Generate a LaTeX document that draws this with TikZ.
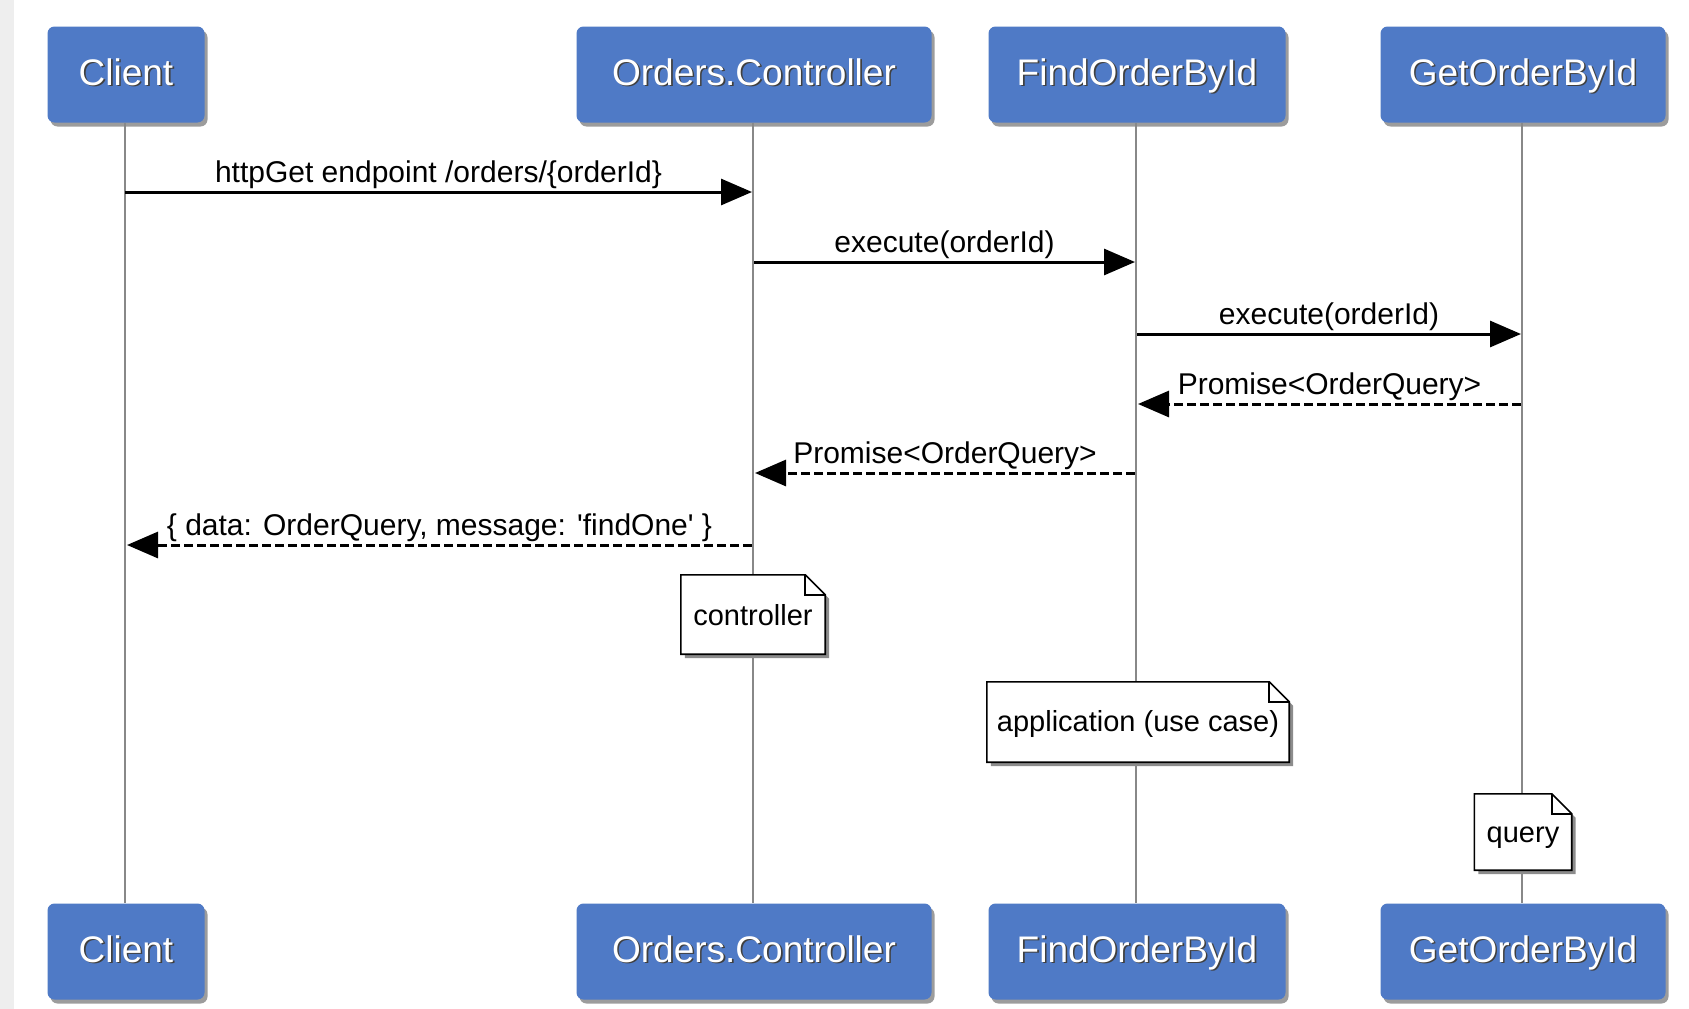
\documentclass[tikz,border=0pt]{standalone}
\usepackage{fontspec}
\setmainfont{Liberation Sans}
\usetikzlibrary{arrows.meta,shadows}
\definecolor{boxblue}{HTML}{4F7AC6}
\definecolor{lifegray}{HTML}{888888}
\definecolor{stripgray}{HTML}{EEEEEE}
\newcommand{\boxtxt}[1]{\rlap{\hspace{1.6pt}\raisebox{-1.6pt}{\color{black!75}#1}}#1}
\begin{document}
\begin{tikzpicture}[x=1pt,y=-1pt,
  actor/.style={rectangle, rounded corners=7pt, fill=boxblue, text=white, inner sep=0pt,
    minimum height=96pt, text height=28pt, text depth=7pt, font=\fontsize{37}{40}\selectfont,
    drop shadow={shadow xshift=3pt, shadow yshift=-4pt, fill=black!70, opacity=0.55}},
  life/.style={draw=lifegray, line width=2.6pt},
  msg/.style={draw=black, line width=3pt, -{Triangle[length=31pt,width=26pt]}},
  ret/.style={msg, dash pattern=on 9pt off 4pt},
  lbl/.style={font=\fontsize{30}{32}\selectfont, inner sep=1pt, above=1pt},
  notebox/.style={rectangle, inner sep=0pt, font=\fontsize{29}{32}\selectfont, text=black},
  notefill/.style={fill=white, draw=black, line width=1.6pt, line join=miter},
  noteshadow/.style={fill=black!45, draw=none}
]
\useasboundingbox (0,0) rectangle (1689,1009);
\fill[white] (0,0) rectangle (1689,1009);
\fill[stripgray] (0,0) rectangle (14,1009);

% actors top
\node[actor, minimum width=157pt] (cT) at (126,74.5) {\boxtxt{Client}};
\node[actor, minimum width=355pt] (oT) at (754,74.5) {\boxtxt{Orders.Controller}};
\node[actor, minimum width=297pt] (fT) at (1137,74.5) {\boxtxt{FindOrderById}};
\node[actor, minimum width=285pt] (gT) at (1523,74.5) {\boxtxt{GetOrderById}};
% actors bottom
\node[actor, minimum width=157pt] (cB) at (126,951.5) {\boxtxt{Client}};
\node[actor, minimum width=355pt] (oB) at (754,951.5) {\boxtxt{Orders.Controller}};
\node[actor, minimum width=297pt] (fB) at (1137,951.5) {\boxtxt{FindOrderById}};
\node[actor, minimum width=285pt] (gB) at (1523,951.5) {\boxtxt{GetOrderById}};

% lifelines
\draw[life] ([xshift=-1pt]cT.south) -- ([xshift=-1pt]cB.north);
\draw[life] ([xshift=-1pt]oT.south) -- ([xshift=-1pt]oB.north);
\draw[life] ([xshift=-1pt]fT.south) -- ([xshift=-1pt]fB.north);
\draw[life] ([xshift=-1pt]gT.south) -- ([xshift=-1pt]gB.north);

% message anchor points on lifelines
\coordinate (c1) at (125,192); \coordinate (o1) at (752,192);
\coordinate (o2) at (754,262); \coordinate (f2) at (1135,262);
\coordinate (f3) at (1137,334); \coordinate (g3) at (1521,334);
\coordinate (g4) at (1521,404); \coordinate (f4) at (1138,404);
\coordinate (f5) at (1135,473); \coordinate (o5) at (755,473);
\coordinate (o6) at (752,545); \coordinate (c6) at (127,545);

% messages
\draw[msg] (c1) -- node[lbl] {httpGet endpoint /orders/\{orderId\}} (o1);
\draw[msg] (o2) -- node[lbl] {execute(orderId)} (f2);
\draw[msg] (f3) -- node[lbl] {execute(orderId)} (g3);
\draw[ret] (g4) -- node[lbl] {Promise<OrderQuery>} (f4);
\draw[ret] (f5) -- node[lbl] {Promise<OrderQuery>} (o5);
\draw[ret] (o6) -- node[lbl] {\{ data: OrderQuery, message: \textquotesingle findOne\textquotesingle{} \}} (c6);

% notes
\node[notebox, minimum width=144pt, minimum height=79pt] (nC) at (753,614.5) {};
\node[notebox, minimum width=302pt, minimum height=80pt] (nA) at (1138,722) {};
\node[notebox, minimum width=97pt, minimum height=76pt] (nQ) at (1523,832) {};
\foreach \n/\t/\dy in {nC/controller/-1pt, nA/application (use case)/-2pt, nQ/query/-6pt}{
  \path[noteshadow] ([xshift=4pt,yshift=-4pt]\n.north west) -- ([xshift=-16pt,yshift=-4pt]\n.north east)
     -- ([xshift=4pt,yshift=-24pt]\n.north east) -- ([xshift=4pt,yshift=-4pt]\n.south east)
     -- ([xshift=4pt,yshift=-4pt]\n.south west) -- cycle;
  \path[notefill] (\n.north west) -- ([xshift=-20pt]\n.north east) -- ([yshift=-20pt]\n.north east)
     -- (\n.south east) -- (\n.south west) -- cycle;
  \draw[black, line width=1.6pt, line join=miter] ([xshift=-20pt]\n.north east) -- ([xshift=-20pt,yshift=-20pt]\n.north east) -- ([yshift=-20pt]\n.north east);
  \node[notebox] at ([yshift=\dy]\n.center) {\t};
}
\end{tikzpicture}
\end{document}
